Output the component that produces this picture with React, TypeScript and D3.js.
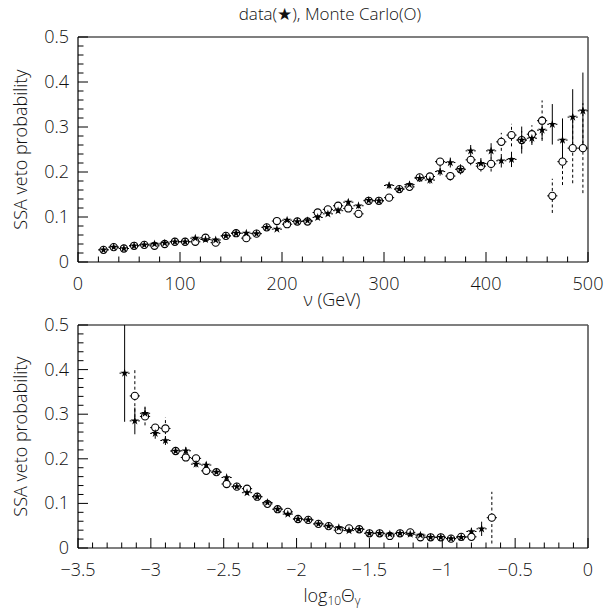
import React from "react";
import * as d3 from "d3";

// ---------- Top panel data (nu in GeV) ----------
const nuBins = [25,35,45,55,65,75,85,95,105,115,125,135,145,155,165,175,185,195,205,215,225,235,245,255,265,275,285,295,305,315,325,335,345,355,365,375,385,395,405,415,425,435,445,455,465,475,485,495];
const nuData = [0.027,0.033,0.030,0.036,0.038,0.040,0.042,0.045,0.045,0.053,0.050,0.049,0.058,0.064,0.064,0.063,0.077,0.073,0.093,0.090,0.092,0.099,0.107,0.114,0.133,0.125,0.137,0.136,0.170,0.162,0.172,0.186,0.182,0.201,0.221,0.206,0.247,0.219,0.247,0.225,0.228,0.271,0.275,0.293,0.306,0.271,0.322,0.336];
const nuDataErr = [0.003,0.003,0.003,0.003,0.003,0.003,0.003,0.003,0.003,0.003,0.003,0.003,0.004,0.004,0.004,0.004,0.004,0.004,0.005,0.005,0.005,0.005,0.005,0.005,0.006,0.006,0.006,0.006,0.007,0.007,0.007,0.008,0.008,0.009,0.011,0.011,0.013,0.012,0.017,0.015,0.017,0.030,0.015,0.020,0.045,0.048,0.062,0.085];
const nuMC = [0.027,0.033,0.030,0.036,0.038,0.036,0.040,0.045,0.045,0.045,0.054,0.043,0.058,0.064,0.053,0.063,0.077,0.091,0.084,0.090,0.090,0.110,0.117,0.125,0.119,0.107,0.136,0.136,0.143,0.162,0.167,0.188,0.190,0.223,0.191,0.206,0.227,0.213,0.218,0.267,0.282,0.271,0.284,0.314,0.147,0.223,0.253,0.253];
const nuMCErr = [0.003,0.003,0.003,0.003,0.003,0.003,0.003,0.003,0.003,0.003,0.003,0.003,0.004,0.004,0.004,0.004,0.004,0.004,0.005,0.005,0.005,0.005,0.005,0.005,0.006,0.006,0.006,0.006,0.007,0.007,0.007,0.008,0.008,0.012,0.010,0.011,0.012,0.012,0.017,0.020,0.025,0.020,0.020,0.045,0.038,0.052,0.078,0.100];

// ---------- Bottom panel data (log10 theta_gamma) ----------
const thBins = [-3.18,-3.11,-3.04,-2.97,-2.90,-2.83,-2.76,-2.69,-2.62,-2.55,-2.48,-2.41,-2.34,-2.27,-2.20,-2.13,-2.06,-1.99,-1.92,-1.85,-1.78,-1.71,-1.64,-1.57,-1.50,-1.43,-1.36,-1.29,-1.22,-1.15,-1.08,-1.01,-0.94,-0.87,-0.80,-0.73,-0.66];
const thData: (number|null)[] = [0.392,0.285,0.302,0.257,0.241,0.2175,0.218,0.188,0.186,0.170,0.158,0.1375,0.124,0.115,0.102,0.087,0.076,0.065,0.063,0.054,0.049,0.0456,0.039,0.042,0.033,0.033,0.031,0.033,0.031,0.029,0.024,0.024,0.021,0.024,0.037,0.043,null];
const thDataErr = [0.109,0.030,0.015,0.012,0.010,0.008,0.008,0.007,0.007,0.006,0.006,0.006,0.005,0.005,0.005,0.005,0.004,0.004,0.004,0.004,0.004,0.004,0.004,0.004,0.003,0.003,0.003,0.003,0.003,0.003,0.003,0.003,0.003,0.004,0.008,0.016,0];
const thMC: (number|null)[] = [null,0.341,0.295,0.270,0.268,0.2175,0.203,0.201,0.173,0.170,0.1435,0.1375,0.133,0.115,0.099,0.087,0.081,0.065,0.063,0.054,0.049,0.040,0.044,0.042,0.033,0.033,0.027,0.033,0.035,0.024,0.024,0.024,0.021,0.025,0.025,null,0.068];
const thMCErr = [0,0.060,0.020,0.012,0.025,0.008,0.008,0.007,0.007,0.006,0.006,0.006,0.005,0.005,0.005,0.005,0.004,0.004,0.004,0.004,0.004,0.004,0.004,0.004,0.003,0.003,0.003,0.003,0.003,0.003,0.003,0.003,0.003,0.004,0.005,0,0.058];

// ---------- Axis ticks ----------
const yTickVals = [0, 0.1, 0.2, 0.3, 0.4, 0.5];
const yTickLabels = ["0", "0.1", "0.2", "0.3", "0.4", "0.5"];
const nuTickVals = [0, 100, 200, 300, 400, 500];
const nuTickLabels = ["0", "100", "200", "300", "400", "500"];
const thTickVals = [-3.5, -3, -2.5, -2, -1.5, -1, -0.5, 0];
const thTickLabels = ["\u22123.5", "\u22123", "\u22122.5", "\u22122", "\u22121.5", "\u22121", "\u22120.5", "0"];

const FONT = "'Open Sans', 'DejaVu Sans', sans-serif";
const FW = 300;
const TXT = "#111";
const starPath = d3.symbol().type(d3.symbolStar).size(22)() as string;

type PanelProps = {
  x: d3.ScaleLinear<number, number>;
  y: d3.ScaleLinear<number, number>;
  bins: number[];
  data: (number | null)[];
  dataErr: number[];
  mc: (number | null)[];
  mcErr: number[];
  halfBin: number;
  xTickVals: number[];
  xTickLabels: string[];
  xMinorStep: number;
};

function Panel(p: PanelProps) {
  const { x, y } = p;
  const [x0, x1] = x.range();
  const [y0, y1] = y.range(); // y0 bottom, y1 top
  const xd = x.domain();
  const minorX = d3.range(Math.round((xd[1] - xd[0]) / p.xMinorStep) + 1).map((i) => xd[0] + i * p.xMinorStep);
  const minorY = d3.range(26).map((i) => i * 0.02);
  const clip = (v: number) => Math.max(y1, Math.min(y0, v));
  const hb = x(xd[0] + p.halfBin) - x(xd[0]);
  const isMajor = (v: number, arr: number[]) => arr.some((a) => Math.abs(a - v) < 1e-6);
  return (
    <g>
      {/* frame */}
      <line x1={x0} x2={x1} y1={y1} y2={y1} stroke="#555" strokeWidth={1.4} />
      <line x1={x1} x2={x1} y1={y1} y2={y0} stroke="#555" strokeWidth={1.6} />
      <line x1={x0} x2={x0} y1={y1} y2={y0} stroke="#000" strokeWidth={1.2} />
      <line x1={x0} x2={x1} y1={y0} y2={y0} stroke="#000" strokeWidth={1.2} />
      {/* x ticks */}
      {minorX.map((v, i) => (
        <line key={"xt" + i} x1={x(v)} x2={x(v)} y1={y0} y2={y0 - (isMajor(v, p.xTickVals) ? 10 : 5.5)} stroke="#000" strokeWidth={1} />
      ))}
      {/* y ticks */}
      {minorY.map((v, i) => (
        <line key={"yt" + i} x1={x0} x2={x0 + (isMajor(v, yTickVals) ? 10 : 5.5)} y1={y(v)} y2={y(v)} stroke="#000" strokeWidth={1} />
      ))}
      {p.xTickVals.map((v, i) => (
        <text key={"xl" + i} x={x(v)} y={y0 + 28} textAnchor="middle" fontFamily={FONT} fontWeight={FW} fontSize={18} fill={TXT}>
          {p.xTickLabels[i]}
        </text>
      ))}
      {yTickVals.map((v, i) => (
        <text key={"yl" + i} x={x0 - 9} y={y(v) + 6} textAnchor="end" fontFamily={FONT} fontWeight={FW} fontSize={18} fill={TXT}>
          {yTickLabels[i]}
        </text>
      ))}
      {/* MC error bars (dashed) */}
      {p.bins.map((b, i) => {
        const v = p.mc[i];
        if (v == null) return null;
        const e = p.mcErr[i];
        const cx = x(b);
        return (
          <g key={"me" + i} stroke="#000" strokeWidth={1}>
            {e > 0.004 && (
              <line x1={cx} x2={cx} y1={clip(y(v - e))} y2={clip(y(v + e))} strokeDasharray="3,2.5" />
            )}
            <line x1={cx - hb} x2={cx - 3} y1={y(v)} y2={y(v)} />
            <line x1={cx + 3} x2={cx + hb} y1={y(v)} y2={y(v)} />
          </g>
        );
      })}
      {/* data error bars (solid) */}
      {p.bins.map((b, i) => {
        const v = p.data[i];
        if (v == null) return null;
        const e = p.dataErr[i];
        const cx = x(b);
        return (
          <g key={"de" + i} stroke="#000" strokeWidth={1}>
            {e > 0.004 && <line x1={cx} x2={cx} y1={clip(y(v - e))} y2={clip(y(v + e))} />}
            <line x1={cx - hb} x2={cx - 3.2} y1={y(v)} y2={y(v)} strokeDasharray="2,1" />
            <line x1={cx + 3.2} x2={cx + hb} y1={y(v)} y2={y(v)} strokeDasharray="2,1" />
          </g>
        );
      })}
      {/* MC circles */}
      {p.bins.map((b, i) => {
        const v = p.mc[i];
        if (v == null) return null;
        return <circle key={"mc" + i} cx={x(b)} cy={y(v)} r={3.6} fill="#fff" stroke="#000" strokeWidth={1.1} />;
      })}
      {/* data stars */}
      {p.bins.map((b, i) => {
        const v = p.data[i];
        if (v == null) return null;
        return <path key={"ds" + i} d={starPath} transform={`translate(${x(b)},${y(v)})`} fill="#000" />;
      })}
    </g>
  );
}

export default function App() {
  const xTop = d3.scaleLinear().domain([0, 500]).range([78, 588]);
  const yTop = d3.scaleLinear().domain([0, 0.5]).range([262, 37]);
  const xBot = d3.scaleLinear().domain([-3.5, 0]).range([78, 588]);
  const yBot = d3.scaleLinear().domain([0, 0.5]).range([548, 325]);
  return (
    <svg width={611} height={610} style={{ position: "absolute", left: 0, top: 0, background: "#fff" }}>
      <rect x={0} y={0} width={611} height={610} fill="#fff" />
      <text x={330} y={20} textAnchor="middle" fontFamily={FONT} fontWeight={FW} fontSize={17} fill={TXT}>
        data(★), Monte Carlo(O)
      </text>
      <Panel x={xTop} y={yTop} bins={nuBins} data={nuData} dataErr={nuDataErr} mc={nuMC} mcErr={nuMCErr}
        halfBin={5} xTickVals={nuTickVals} xTickLabels={nuTickLabels} xMinorStep={20} />
      <text x={332} y={306} textAnchor="middle" fontFamily={FONT} fontWeight={FW} fontSize={18} fill={TXT}>ν (GeV)</text>
      <text transform="translate(27,149.5) rotate(-90)" textAnchor="middle" fontFamily={FONT} fontWeight={FW} fontSize={18} fill={TXT}>
        SSA veto probability
      </text>
      <Panel x={xBot} y={yBot} bins={thBins} data={thData} dataErr={thDataErr} mc={thMC} mcErr={thMCErr}
        halfBin={0.035} xTickVals={thTickVals} xTickLabels={thTickLabels} xMinorStep={0.1} />
      <text transform="translate(27,436.5) rotate(-90)" textAnchor="middle" fontFamily={FONT} fontWeight={FW} fontSize={18} fill={TXT}>
        SSA veto probability
      </text>
      <text x={332} y={602} textAnchor="middle" fontFamily={FONT} fontWeight={FW} fontSize={18} fill={TXT}>
        log<tspan fontSize={12} dy={3}>10</tspan><tspan dy={-3}>Θ</tspan><tspan fontSize={12} dy={3}>γ</tspan>
      </text>
    </svg>
  );
}
